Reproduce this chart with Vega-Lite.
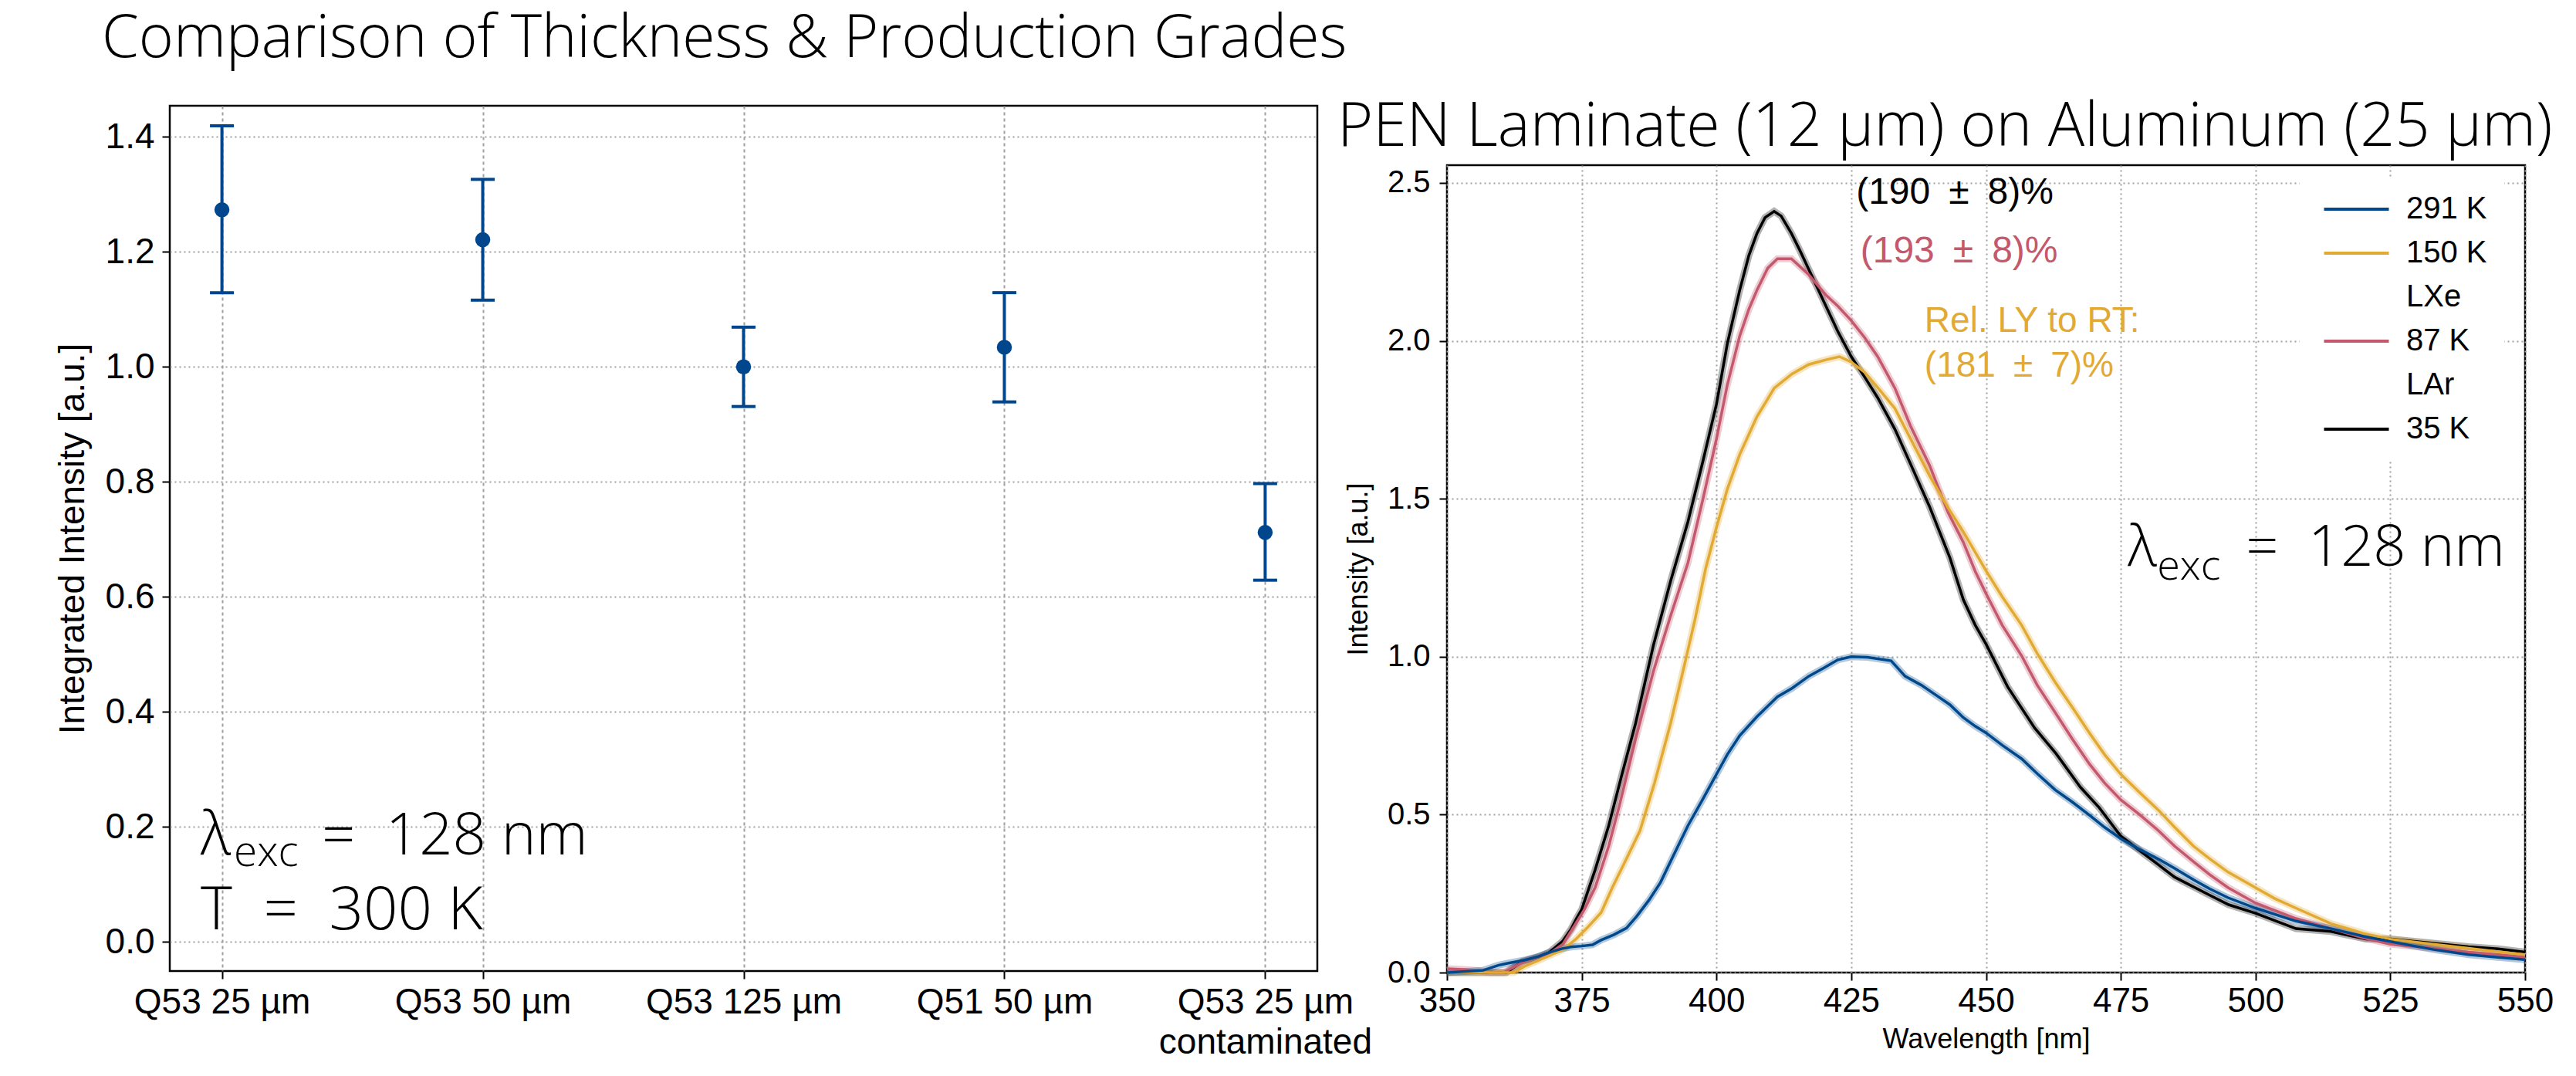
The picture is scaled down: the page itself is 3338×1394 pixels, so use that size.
{
  "$schema": "https://vega.github.io/schema/vega-lite/v6.json",
  "background": "white",
  "padding": {"left": 69, "top": 10, "right": 0, "bottom": 0},
  "spacing": -48,
  "datasets": {
    "spec": [
      {"s":"35 K","wl":350,"I":0.0},{"s":"35 K","wl":355,"I":0.0},{"s":"35 K","wl":361,"I":0.0},{"s":"35 K","wl":364,"I":0.035},{"s":"35 K","wl":367,"I":0.05},{"s":"35 K","wl":369,"I":0.064},{"s":"35 K","wl":371.5,"I":0.1},{"s":"35 K","wl":373,"I":0.137},{"s":"35 K","wl":374,"I":0.17},{"s":"35 K","wl":375,"I":0.2},{"s":"35 K","wl":377.5,"I":0.326},{"s":"35 K","wl":380,"I":0.465},{"s":"35 K","wl":382.5,"I":0.63},{"s":"35 K","wl":385,"I":0.79},{"s":"35 K","wl":388.3,"I":1.036},{"s":"35 K","wl":391.5,"I":1.24},{"s":"35 K","wl":394.7,"I":1.427},{"s":"35 K","wl":397.5,"I":1.62},{"s":"35 K","wl":400,"I":1.8},{"s":"35 K","wl":402,"I":1.99},{"s":"35 K","wl":404.3,"I":2.16},{"s":"35 K","wl":406,"I":2.27},{"s":"35 K","wl":407.5,"I":2.34},{"s":"35 K","wl":409,"I":2.39},{"s":"35 K","wl":410.7,"I":2.41},{"s":"35 K","wl":412,"I":2.395},{"s":"35 K","wl":413.9,"I":2.34},{"s":"35 K","wl":415.5,"I":2.285},{"s":"35 K","wl":417.1,"I":2.227},{"s":"35 K","wl":420.3,"I":2.11},{"s":"35 K","wl":422.5,"I":2.03},{"s":"35 K","wl":425,"I":1.95},{"s":"35 K","wl":427.5,"I":1.885},{"s":"35 K","wl":429.9,"I":1.82},{"s":"35 K","wl":433.1,"I":1.72},{"s":"35 K","wl":436,"I":1.61},{"s":"35 K","wl":439.5,"I":1.476},{"s":"35 K","wl":443.3,"I":1.313},{"s":"35 K","wl":445.8,"I":1.18},{"s":"35 K","wl":448,"I":1.1},{"s":"35 K","wl":450,"I":1.04},{"s":"35 K","wl":454,"I":0.905},{"s":"35 K","wl":459,"I":0.775},{"s":"35 K","wl":463,"I":0.693},{"s":"35 K","wl":467.5,"I":0.587},{"s":"35 K","wl":471,"I":0.522},{"s":"35 K","wl":475,"I":0.432},{"s":"35 K","wl":480,"I":0.367},{"s":"35 K","wl":485,"I":0.302},{"s":"35 K","wl":491.5,"I":0.245},{"s":"35 K","wl":495,"I":0.215},{"s":"35 K","wl":500,"I":0.188},{"s":"35 K","wl":507.5,"I":0.139},{"s":"35 K","wl":514,"I":0.13},{"s":"35 K","wl":520.5,"I":0.106},{"s":"35 K","wl":525,"I":0.106},{"s":"35 K","wl":533,"I":0.093},{"s":"35 K","wl":539.5,"I":0.082},{"s":"35 K","wl":545,"I":0.075},{"s":"35 K","wl":550,"I":0.065},

      {"s":"87 K","wl":350,"I":0.012},{"s":"87 K","wl":353,"I":0.01},{"s":"87 K","wl":356,"I":0.006},{"s":"87 K","wl":358,"I":0.0},{"s":"87 K","wl":360.5,"I":0.0},{"s":"87 K","wl":364.3,"I":0.035},{"s":"87 K","wl":369,"I":0.06},{"s":"87 K","wl":371.5,"I":0.09},{"s":"87 K","wl":373.8,"I":0.153},{"s":"87 K","wl":375.5,"I":0.2},{"s":"87 K","wl":377.5,"I":0.27},{"s":"87 K","wl":380,"I":0.4},{"s":"87 K","wl":382,"I":0.53},{"s":"87 K","wl":385,"I":0.74},{"s":"87 K","wl":388.3,"I":0.954},{"s":"87 K","wl":391.5,"I":1.13},{"s":"87 K","wl":394.7,"I":1.297},{"s":"87 K","wl":397.5,"I":1.5},{"s":"87 K","wl":400,"I":1.69},{"s":"87 K","wl":402,"I":1.86},{"s":"87 K","wl":404.3,"I":2.015},{"s":"87 K","wl":406,"I":2.1},{"s":"87 K","wl":407.5,"I":2.16},{"s":"87 K","wl":409.5,"I":2.23},{"s":"87 K","wl":411.3,"I":2.26},{"s":"87 K","wl":413.9,"I":2.26},{"s":"87 K","wl":415.5,"I":2.235},{"s":"87 K","wl":417.1,"I":2.21},{"s":"87 K","wl":420.3,"I":2.145},{"s":"87 K","wl":422.5,"I":2.11},{"s":"87 K","wl":425,"I":2.064},{"s":"87 K","wl":427.5,"I":2.01},{"s":"87 K","wl":429.9,"I":1.95},{"s":"87 K","wl":433.1,"I":1.85},{"s":"87 K","wl":436,"I":1.73},{"s":"87 K","wl":439.5,"I":1.607},{"s":"87 K","wl":443,"I":1.455},{"s":"87 K","wl":445.8,"I":1.362},{"s":"87 K","wl":448,"I":1.27},{"s":"87 K","wl":450,"I":1.2},{"s":"87 K","wl":453,"I":1.1},{"s":"87 K","wl":456.6,"I":1.003},{"s":"87 K","wl":459.5,"I":0.91},{"s":"87 K","wl":462.8,"I":0.824},{"s":"87 K","wl":466,"I":0.74},{"s":"87 K","wl":469.2,"I":0.66},{"s":"87 K","wl":472,"I":0.6},{"s":"87 K","wl":475,"I":0.547},{"s":"87 K","wl":478.5,"I":0.5},{"s":"87 K","wl":482,"I":0.449},{"s":"87 K","wl":485,"I":0.4},{"s":"87 K","wl":488.5,"I":0.351},{"s":"87 K","wl":491.5,"I":0.31},{"s":"87 K","wl":494.9,"I":0.269},{"s":"87 K","wl":500,"I":0.22},{"s":"87 K","wl":507.5,"I":0.171},{"s":"87 K","wl":514,"I":0.139},{"s":"87 K","wl":520,"I":0.11},{"s":"87 K","wl":525,"I":0.09},{"s":"87 K","wl":533,"I":0.077},{"s":"87 K","wl":539.5,"I":0.065},{"s":"87 K","wl":545,"I":0.057},{"s":"87 K","wl":550,"I":0.049},

      {"s":"150 K","wl":350,"I":0.0},{"s":"150 K","wl":355,"I":0.0},{"s":"150 K","wl":362.4,"I":0.0},{"s":"150 K","wl":364.3,"I":0.019},{"s":"150 K","wl":367,"I":0.039},{"s":"150 K","wl":371.4,"I":0.072},{"s":"150 K","wl":373.8,"I":0.104},{"s":"150 K","wl":376.2,"I":0.145},{"s":"150 K","wl":378.6,"I":0.19},{"s":"150 K","wl":380.7,"I":0.27},{"s":"150 K","wl":383,"I":0.35},{"s":"150 K","wl":385.8,"I":0.449},{"s":"150 K","wl":388.5,"I":0.6},{"s":"150 K","wl":391.5,"I":0.79},{"s":"150 K","wl":394,"I":0.97},{"s":"150 K","wl":396,"I":1.117},{"s":"150 K","wl":398,"I":1.28},{"s":"150 K","wl":400,"I":1.41},{"s":"150 K","wl":402,"I":1.53},{"s":"150 K","wl":404.3,"I":1.64},{"s":"150 K","wl":407.5,"I":1.76},{"s":"150 K","wl":410.7,"I":1.85},{"s":"150 K","wl":414,"I":1.895},{"s":"150 K","wl":417.1,"I":1.925},{"s":"150 K","wl":420.3,"I":1.94},{"s":"150 K","wl":422.8,"I":1.95},{"s":"150 K","wl":425,"I":1.933},{"s":"150 K","wl":427.5,"I":1.9},{"s":"150 K","wl":430,"I":1.85},{"s":"150 K","wl":433.1,"I":1.786},{"s":"150 K","wl":436,"I":1.69},{"s":"150 K","wl":439.5,"I":1.574},{"s":"150 K","wl":443,"I":1.47},{"s":"150 K","wl":445.8,"I":1.395},{"s":"150 K","wl":450,"I":1.272},{"s":"150 K","wl":453,"I":1.19},{"s":"150 K","wl":456.6,"I":1.1},{"s":"150 K","wl":459.5,"I":1.01},{"s":"150 K","wl":462.8,"I":0.92},{"s":"150 K","wl":466,"I":0.84},{"s":"150 K","wl":469.2,"I":0.758},{"s":"150 K","wl":472,"I":0.69},{"s":"150 K","wl":475,"I":0.628},{"s":"150 K","wl":478.5,"I":0.57},{"s":"150 K","wl":482,"I":0.514},{"s":"150 K","wl":485,"I":0.46},{"s":"150 K","wl":488.5,"I":0.4},{"s":"150 K","wl":491.5,"I":0.36},{"s":"150 K","wl":494.9,"I":0.318},{"s":"150 K","wl":500,"I":0.269},{"s":"150 K","wl":503.5,"I":0.235},{"s":"150 K","wl":507.5,"I":0.204},{"s":"150 K","wl":514,"I":0.155},{"s":"150 K","wl":520.5,"I":0.122},{"s":"150 K","wl":525,"I":0.106},{"s":"150 K","wl":533,"I":0.09},{"s":"150 K","wl":539.5,"I":0.077},{"s":"150 K","wl":545,"I":0.066},{"s":"150 K","wl":550,"I":0.057},

      {"s":"291 K","wl":350,"I":0.0},{"s":"291 K","wl":356.7,"I":0.007},{"s":"291 K","wl":359.5,"I":0.023},{"s":"291 K","wl":361.4,"I":0.03},{"s":"291 K","wl":364.3,"I":0.039},{"s":"291 K","wl":367,"I":0.051},{"s":"291 K","wl":369,"I":0.064},{"s":"291 K","wl":371.4,"I":0.076},{"s":"291 K","wl":373,"I":0.081},{"s":"291 K","wl":375,"I":0.084},{"s":"291 K","wl":377,"I":0.088},{"s":"291 K","wl":378.6,"I":0.103},{"s":"291 K","wl":381,"I":0.12},{"s":"291 K","wl":383.3,"I":0.141},{"s":"291 K","wl":385.2,"I":0.178},{"s":"291 K","wl":387.5,"I":0.23},{"s":"291 K","wl":389.6,"I":0.285},{"s":"291 K","wl":392,"I":0.37},{"s":"291 K","wl":394.7,"I":0.465},{"s":"291 K","wl":397.5,"I":0.55},{"s":"291 K","wl":400,"I":0.628},{"s":"291 K","wl":402,"I":0.69},{"s":"291 K","wl":404.3,"I":0.75},{"s":"291 K","wl":407.5,"I":0.81},{"s":"291 K","wl":411.3,"I":0.873},{"s":"291 K","wl":414,"I":0.9},{"s":"291 K","wl":417.1,"I":0.938},{"s":"291 K","wl":420,"I":0.965},{"s":"291 K","wl":422.5,"I":0.99},{"s":"291 K","wl":425,"I":1.0},{"s":"291 K","wl":428,"I":0.998},{"s":"291 K","wl":432.4,"I":0.987},{"s":"291 K","wl":435,"I":0.938},{"s":"291 K","wl":438,"I":0.91},{"s":"291 K","wl":441,"I":0.875},{"s":"291 K","wl":443.3,"I":0.848},{"s":"291 K","wl":445.8,"I":0.807},{"s":"291 K","wl":448,"I":0.78},{"s":"291 K","wl":450,"I":0.759},{"s":"291 K","wl":453,"I":0.72},{"s":"291 K","wl":456.6,"I":0.677},{"s":"291 K","wl":459.5,"I":0.63},{"s":"291 K","wl":462.8,"I":0.579},{"s":"291 K","wl":466,"I":0.54},{"s":"291 K","wl":469.2,"I":0.498},{"s":"291 K","wl":472,"I":0.46},{"s":"291 K","wl":475,"I":0.424},{"s":"291 K","wl":478.5,"I":0.39},{"s":"291 K","wl":482,"I":0.359},{"s":"291 K","wl":485,"I":0.33},{"s":"291 K","wl":488.5,"I":0.294},{"s":"291 K","wl":491.5,"I":0.265},{"s":"291 K","wl":494.9,"I":0.237},{"s":"291 K","wl":500,"I":0.204},{"s":"291 K","wl":507.5,"I":0.163},{"s":"291 K","wl":514,"I":0.139},{"s":"291 K","wl":520,"I":0.115},{"s":"291 K","wl":525,"I":0.098},{"s":"291 K","wl":533,"I":0.073},{"s":"291 K","wl":539.5,"I":0.057},{"s":"291 K","wl":545,"I":0.048},{"s":"291 K","wl":550,"I":0.041}
    ]
  },
  "hconcat": [
    {
      "width": 1487,
      "height": 1121,
      "title": {"text": "Comparison of Thickness & Production Grades", "anchor": "start", "frame": "group", "dx": -88, "offset": 47, "fontSize": 77, "font": "Open Sans", "fontWeight": 300, "color": "black"},
      "data": {"values": [
        {"idx": 0, "v": 1.273, "lo": 1.129, "hi": 1.419},
        {"idx": 1, "v": 1.221, "lo": 1.116, "hi": 1.326},
        {"idx": 2, "v": 1.0, "lo": 0.931, "hi": 1.069},
        {"idx": 3, "v": 1.034, "lo": 0.939, "hi": 1.129},
        {"idx": 4, "v": 0.712, "lo": 0.629, "hi": 0.797}
      ]},
      "encoding": {
        "x": {"field": "idx", "type": "quantitative", "scale": {"domain": [-0.2, 4.2], "nice": false, "zero": false},
              "axis": {"title": null, "values": [0, 1, 2, 3, 4], "labelExpr": "[['Q53 25 µm'], ['Q53 50 µm'], ['Q53 125 µm'], ['Q51 50 µm'], ['Q53 25 µm', 'contaminated']][datum.value]", "labelFontSize": 46, "labelPadding": 8, "labelLineHeight": 52, "labelLimit": 0, "gridDash": [4, 4]}}
      },
      "layer": [
        {"mark": {"type": "rule", "color": "#00468C", "strokeWidth": 4},
         "encoding": {"y": {"field": "lo", "type": "quantitative", "scale": {"domain": [-0.0506, 1.454], "nice": false, "zero": false},
                            "axis": {"title": "Integrated Intensity [a.u.]", "values": [0, 0.2, 0.4, 0.6, 0.8, 1.0, 1.2, 1.4], "format": ".1f", "labelFontSize": 46, "labelPadding": 10, "titleFontSize": 46, "titlePadding": 18}},
                      "y2": {"field": "hi"}}},
        {"mark": {"type": "tick", "orient": "horizontal", "color": "#00468C", "size": 31, "thickness": 4, "opacity": 1},
         "encoding": {"y": {"field": "lo", "type": "quantitative"}}},
        {"mark": {"type": "tick", "orient": "horizontal", "color": "#00468C", "size": 31, "thickness": 4, "opacity": 1},
         "encoding": {"y": {"field": "hi", "type": "quantitative"}}},
        {"mark": {"type": "circle", "color": "#00468C", "size": 380, "opacity": 1},
         "encoding": {"y": {"field": "v", "type": "quantitative"}}},
        {"data": {"values": [{"px": -0.0817, "py": 0.152}]},
         "layer": [
           {"mark": {"type": "text", "text": "λ", "align": "left", "baseline": "alphabetic", "font": "Open Sans", "fontWeight": 300, "fontSize": 77, "color": "black"},
            "encoding": {"x": {"field": "px", "type": "quantitative"}, "y": {"field": "py", "type": "quantitative"}}},
           {"mark": {"type": "text", "text": "exc", "align": "left", "baseline": "alphabetic", "font": "Open Sans", "fontWeight": 300, "fontSize": 55, "dx": 43, "dy": 15, "color": "black"},
            "encoding": {"x": {"field": "px", "type": "quantitative"}, "y": {"field": "py", "type": "quantitative"}}},
           {"mark": {"type": "text", "text": "=\u00a0\u00a0128 nm", "align": "left", "baseline": "alphabetic", "font": "Open Sans", "fontWeight": 300, "fontSize": 76, "dx": 157, "color": "black"},
            "encoding": {"x": {"field": "px", "type": "quantitative"}, "y": {"field": "py", "type": "quantitative"}}}
         ]},
        {"data": {"values": [{"px": -0.0817, "py": 0.0215, "t": "T\u00a0\u00a0=\u00a0\u00a0300 K"}]},
         "mark": {"type": "text", "align": "left", "baseline": "alphabetic", "font": "Open Sans", "fontWeight": 300, "fontSize": 78, "color": "black"},
         "encoding": {"x": {"field": "px", "type": "quantitative"}, "y": {"field": "py", "type": "quantitative"}, "text": {"field": "t"}}}
      ]
    },
    {
      "spacing": -17,
      "vconcat": [
        {
          "width": 1397,
          "height": 1,
          "view": {"stroke": null},
          "data": {"values": [{"a": 1}]},
          "mark": {"type": "point", "opacity": 0},
          "encoding": {}
        },
        {
          "width": 1397,
          "height": 1046,
          "title": {"text": "PEN Laminate (12 µm) on Aluminum (25 µm)", "anchor": "start", "frame": "group", "dx": -142, "offset": 8, "fontSize": 79, "font": "Open Sans", "fontWeight": 300, "color": "black"},
          "layer": [
            {"data": {"name": "spec"},
             "mark": {"type": "line", "strokeWidth": 9, "opacity": 0.3},
             "encoding": {
               "x": {"field": "wl", "type": "quantitative", "scale": {"domain": [350, 550], "nice": false, "zero": false},
                     "axis": {"title": "Wavelength [nm]", "values": [350, 375, 400, 425, 450, 475, 500, 525, 550], "labelFontSize": 44, "labelPadding": 5, "titleFontSize": 36, "titlePadding": 10}},
               "y": {"field": "I", "type": "quantitative", "scale": {"domain": [0, 2.556], "nice": false, "zero": false},
                     "axis": {"title": "Intensity [a.u.]", "values": [0, 0.5, 1.0, 1.5, 2.0, 2.5], "format": ".1f", "labelFontSize": 40, "labelPadding": 12, "titleFontSize": 36, "titlePadding": 18}},
               "color": {"field": "s", "type": "nominal",
                         "scale": {"domain": ["291 K", "150 K", "LXe", "87 K", "LAr", "35 K"], "range": ["#00488C", "#E2AA33", "transparent", "#C4586C", "transparent", "#000000"]},
                         "legend": {"title": null, "orient": "none", "legendX": 1105, "legendY": 92, "padding": 22, "fillColor": "white", "strokeColor": null,
                                    "symbolType": "M-1,0H7", "symbolSize": 441, "symbolStrokeWidth": 4, "symbolOpacity": 1,
                                    "labelFontSize": 40, "labelFont": "Liberation Sans", "labelColor": "black", "labelOffset": 76, "rowPadding": 17}},
               "detail": {"field": "s"}
             }},
            {"data": {"name": "spec"},
             "mark": {"type": "line", "strokeWidth": 3.5},
             "encoding": {
               "x": {"field": "wl", "type": "quantitative"},
               "y": {"field": "I", "type": "quantitative"},
               "color": {"field": "s", "type": "nominal"}
             }},
            {"data": {"values": [{"wl": 425.9, "I": 2.434, "t": "(190\u2002±\u20028)%"}]},
             "mark": {"type": "text", "align": "left", "baseline": "alphabetic", "font": "Liberation Sans", "fontSize": 48, "color": "black"},
             "encoding": {"x": {"field": "wl", "type": "quantitative"}, "y": {"field": "I", "type": "quantitative"}, "text": {"field": "t"}}},
            {"data": {"values": [{"wl": 426.7, "I": 2.249, "t": "(193\u2002±\u20028)%"}]},
             "mark": {"type": "text", "align": "left", "baseline": "alphabetic", "font": "Liberation Sans", "fontSize": 48, "color": "#C4586C"},
             "encoding": {"x": {"field": "wl", "type": "quantitative"}, "y": {"field": "I", "type": "quantitative"}, "text": {"field": "t"}}},
            {"data": {"values": [{"wl": 438.6, "I": 2.028, "t": "Rel. LY to RT:"}, {"wl": 438.6, "I": 1.887, "t": "(181\u2002±\u20027)%"}]},
             "mark": {"type": "text", "align": "left", "baseline": "alphabetic", "font": "Liberation Sans", "fontSize": 46, "color": "#E2AA33"},
             "encoding": {"x": {"field": "wl", "type": "quantitative"}, "y": {"field": "I", "type": "quantitative"}, "text": {"field": "t"}}},
            {"data": {"values": [{"wl": 476.3, "I": 1.288}]},
             "layer": [
               {"mark": {"type": "text", "text": "λ", "align": "left", "baseline": "alphabetic", "font": "Open Sans", "fontWeight": 300, "fontSize": 74, "color": "black"},
                "encoding": {"x": {"field": "wl", "type": "quantitative"}, "y": {"field": "I", "type": "quantitative"}}},
               {"mark": {"type": "text", "text": "exc", "align": "left", "baseline": "alphabetic", "font": "Open Sans", "fontWeight": 300, "fontSize": 54, "dx": 38, "dy": 18, "color": "black"},
                "encoding": {"x": {"field": "wl", "type": "quantitative"}, "y": {"field": "I", "type": "quantitative"}}},
               {"mark": {"type": "text", "text": "=\u00a0\u00a0128 nm", "align": "left", "baseline": "alphabetic", "font": "Open Sans", "fontWeight": 300, "fontSize": 74, "dx": 153, "color": "black"},
                "encoding": {"x": {"field": "wl", "type": "quantitative"}, "y": {"field": "I", "type": "quantitative"}}}
             ]}
          ]
        }
      ]
    }
  ],
  "resolve": {"scale": {"color": "independent"}},
  "config": {
    "view": {"stroke": "black", "strokeWidth": 2.5},
    "font": "Liberation Sans",
    "axis": {"domain": false, "tickColor": "black", "tickWidth": 2, "tickSize": 10, "labelColor": "black", "titleColor": "black",
             "labelFont": "Liberation Sans", "titleFont": "Liberation Sans", "titleFontWeight": "normal",
             "gridColor": "#a0a0a0", "gridDash": [2, 4], "gridWidth": 2, "labelOverlap": false, "labelFlush": false}
  }
}
